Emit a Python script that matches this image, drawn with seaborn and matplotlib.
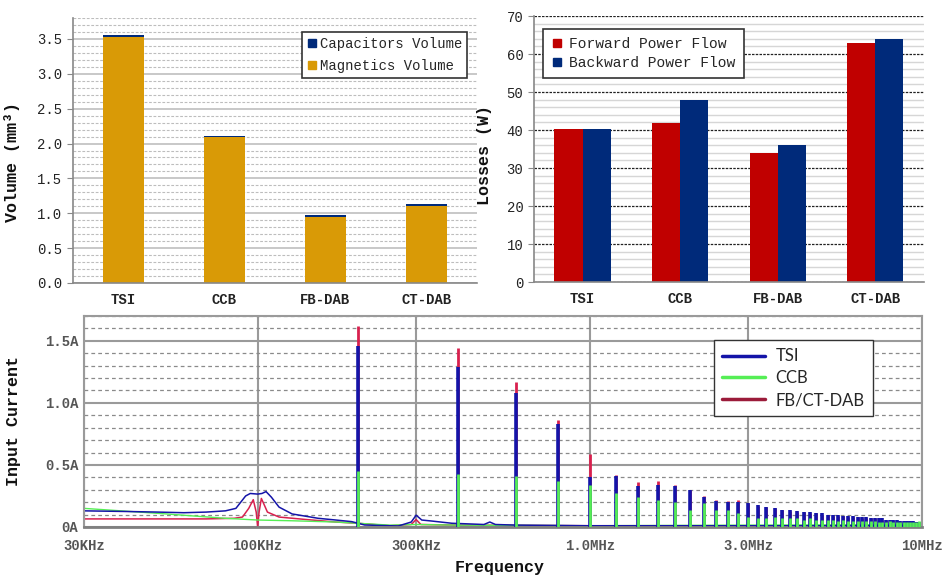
import matplotlib
matplotlib.use("Agg")
import numpy as np
import pandas as pd
import matplotlib.pyplot as plt
import seaborn as sns
from matplotlib.lines import Line2D
from matplotlib.ticker import MultipleLocator, FixedLocator, NullFormatter

# ---------------- data ----------------
categories = ["TSI", "CCB", "FB-DAB", "CT-DAB"]
magnetics_volume = [3.53, 2.09, 0.95, 1.10]
capacitors_volume = [0.03, 0.02, 0.03, 0.03]
volume_ticks = [0.0, 0.5, 1.0, 1.5, 2.0, 2.5, 3.0, 3.5]

forward_losses = [40.2, 41.9, 33.9, 62.9]
backward_losses = [40.2, 48.0, 36.0, 63.9]
loss_ticks = [0, 10, 20, 30, 40, 50, 60, 70]

harmonic_khz = [200, 400, 600, 800, 1000, 1200, 1400, 1600, 1800, 2000,
                2200, 2400, 2600, 2800, 3000, 3200, 3400, 3600, 3800, 4000,
                4200, 4400, 4600, 4800, 5000, 5200, 5400, 5600, 5800, 6000,
                6200, 6400, 6600, 6800, 7000, 7200, 7400, 7600, 7800, 8000,
                8200, 8400, 8600, 8800, 9000, 9200, 9400, 9600, 9800]
tsi_peaks = [1.46, 1.29, 1.08, 0.83, 0.40, 0.41, 0.33, 0.34, 0.33, 0.30,
             0.24, 0.21, 0.20, 0.20, 0.19, 0.18, 0.16, 0.15, 0.14, 0.14,
             0.13, 0.12, 0.12, 0.11, 0.11, 0.10, 0.10, 0.10, 0.09, 0.09,
             0.09, 0.08, 0.08, 0.08, 0.07, 0.07, 0.07, 0.07, 0.06, 0.06,
             0.06, 0.06, 0.05, 0.05, 0.05, 0.05, 0.05, 0.04, 0.04]
ccb_peaks = [0.45, 0.43, 0.41, 0.37, 0.34, 0.27, 0.245, 0.22, 0.20, 0.14,
             0.19, 0.14, 0.14, 0.11, 0.08, 0.07, 0.07, 0.08, 0.07, 0.07,
             0.07, 0.06, 0.07, 0.06, 0.06, 0.06, 0.06, 0.05, 0.06, 0.05,
             0.05, 0.05, 0.05, 0.05, 0.05, 0.05, 0.04, 0.04, 0.04, 0.05,
             0.04, 0.04, 0.04, 0.04, 0.04, 0.04, 0.04, 0.04, 0.05]
dab_peaks = [1.62, 1.44, 1.17, 0.86, 0.59, 0.42, 0.36, 0.37, 0.34, 0.30,
             0.25, 0.22, 0.21, 0.22, 0.19, 0.17, 0.16, 0.15, 0.14, 0.13,
             0.12, 0.12, 0.11, 0.11, 0.10, 0.10, 0.09, 0.09, 0.09, 0.08,
             0.08, 0.08, 0.07, 0.07, 0.07, 0.07, 0.06, 0.06, 0.06, 0.06,
             0.06, 0.05, 0.05, 0.05, 0.05, 0.05, 0.04, 0.04, 0.04]

tsi_floor_khz = [30, 40, 50, 60, 70, 80, 86, 92, 95, 100, 103, 106, 110, 116,
                 127, 152, 172, 192, 210, 265, 290, 300, 312, 334, 384, 440,
                 480, 500, 520, 600, 1000, 10000]
tsi_floor = [0.13, 0.125, 0.12, 0.115, 0.12, 0.13, 0.15, 0.25, 0.27, 0.265,
             0.27, 0.285, 0.24, 0.16, 0.105, 0.07, 0.056, 0.043, 0.016, 0.008,
             0.04, 0.095, 0.056, 0.048, 0.03, 0.024, 0.02, 0.04, 0.02, 0.015,
             0.01, 0.01]
dab_floor_khz = [30, 50, 70, 85, 90, 94, 97, 99, 100, 101, 102.6, 105, 107,
                 116, 140, 172, 200, 250, 290, 300, 310, 400, 1000, 10000]
dab_floor = [0.065, 0.065, 0.065, 0.07, 0.08, 0.15, 0.22, 0.12, 0.0, 0.12,
             0.23, 0.17, 0.12, 0.08, 0.06, 0.04, 0.03, 0.01, 0.02, 0.06,
             0.02, 0.015, 0.01, 0.01]
ccb_floor_khz = [30, 50, 80, 100, 127, 172, 200, 250, 300, 400, 1000, 10000]
ccb_floor = [0.15, 0.11, 0.07, 0.056, 0.05, 0.04, 0.03, 0.015, 0.02, 0.015,
             0.01, 0.02]

freq_ticks_hz = [30e3, 100e3, 300e3, 1e6, 3e6, 10e6]
freq_tick_labels = ["30KHz", "100KHz", "300KHz", "1.0MHz", "3.0MHz", "10MHz"]
current_ticks = [0.0, 0.5, 1.0, 1.5]
current_tick_labels = ["0A", "0.5A", "1.0A", "1.5A"]

# ---------------- style ----------------
sns.set_style("white")
MONO = ["Liberation Mono", "DejaVu Sans Mono"]
plt.rcParams["font.family"] = MONO

GOLD = "#D99A06"
NAVY = "#002A7A"
RED = "#C00000"
BLUE_TR = "#1414A8"
GREEN_TR = "#55EE55"
RED_TR = "#D8204E"

fig = plt.figure(figsize=(9.49, 5.76), dpi=100)
fig.patch.set_facecolor("white")

# ---------------- top-left: volume ----------------
ax1 = fig.add_axes([0.0769, 0.5087, 0.4257, 0.460])
total_volume = [m + c for m, c in zip(magnetics_volume, capacitors_volume)]
sns.barplot(x=categories, y=total_volume, color=NAVY, width=0.4, saturation=1,
            linewidth=0, ax=ax1)
sns.barplot(x=categories, y=magnetics_volume, color=GOLD, width=0.4,
            saturation=1, linewidth=0, ax=ax1)
ax1.set_xlim(-0.5, 3.5)
ax1.set_ylim(0, 3.8)
ax1.yaxis.set_major_locator(FixedLocator(volume_ticks))
ax1.set_yticklabels([f"{v:.1f}" for v in volume_ticks])
ax1.yaxis.set_minor_locator(MultipleLocator(0.1))
ax1.set_axisbelow(True)
ax1.grid(which="major", axis="y", color="#c4c4c4", lw=1.3)
ax1.grid(which="minor", axis="y", color="#bdbdbd", lw=0.8, ls=(0, (2.5, 1.5)))
ax1.grid(which="major", axis="x", visible=False)
ax1.xaxis.set_minor_locator(FixedLocator([-0.5, 0.5, 1.5, 2.5, 3.5]))
ax1.tick_params(axis="x", which="major", length=0, pad=7, labelsize=10,
                colors="#222222")
ax1.tick_params(axis="x", which="minor", length=5, color="#888888", direction="out")
ax1.tick_params(axis="y", which="major", length=4, color="#888888", labelsize=10,
                colors="#222222", left=True)
ax1.tick_params(axis="y", which="minor", length=0)
for t in ax1.get_xticklabels():
    t.set_fontweight("bold")
for s in ["top", "right"]:
    ax1.spines[s].set_visible(False)
for s in ["left", "bottom"]:
    ax1.spines[s].set_color("#888888")
    ax1.spines[s].set_linewidth(1.2)
ax1.set_xlabel("")
ax1.set_ylabel("Volume (mm³)", fontsize=12, fontweight="bold", color="#111111")
ax1.yaxis.set_label_coords(-0.131, 0.457)
h1 = [Line2D([], [], ls="none", marker="s", markersize=6, color=NAVY),
      Line2D([], [], ls="none", marker="s", markersize=6, color=GOLD)]
leg1 = ax1.legend(h1, ["Capacitors Volume", "Magnetics Volume"],
                  loc="upper right", bbox_to_anchor=(0.975, 0.947),
                  frameon=True, fancybox=False, framealpha=1,
                  edgecolor="#333333", prop={"family": MONO, "size": 10},
                  handletextpad=0.15, handlelength=0.8, borderpad=0.35,
                  labelspacing=0.6, borderaxespad=0)
leg1.get_frame().set_linewidth(1.2)

# ---------------- top-right: losses ----------------
ax2 = fig.add_axes([0.5624, 0.5104, 0.4113, 0.4618])
loss_df = pd.DataFrame({
    "Converter": categories * 2,
    "Losses": forward_losses + backward_losses,
    "Flow": ["Forward Power Flow"] * 4 + ["Backward Power Flow"] * 4,
})
sns.barplot(data=loss_df, x="Converter", y="Losses", hue="Flow",
            palette=[RED, NAVY], width=0.575, saturation=1, linewidth=0,
            ax=ax2, legend=False)
ax2.set_xlim(-0.5, 3.5)
ax2.set_ylim(0, 70)
ax2.yaxis.set_major_locator(FixedLocator(loss_ticks))
ax2.set_yticklabels([str(v) for v in loss_ticks])
ax2.yaxis.set_minor_locator(MultipleLocator(2))
ax2.set_axisbelow(True)
ax2.grid(which="minor", axis="y", color="#d6d6d6", lw=1.0)
ax2.grid(which="major", axis="y", color="#222222", lw=0.9, ls=(0, (2, 1)))
ax2.grid(which="major", axis="x", visible=False)
ax2.xaxis.set_minor_locator(FixedLocator([-0.5, 0.5, 1.5, 2.5, 3.5]))
ax2.tick_params(axis="x", which="major", length=0, pad=7, labelsize=10,
                colors="#222222")
ax2.tick_params(axis="x", which="minor", length=5, color="#888888", direction="out")
ax2.tick_params(axis="y", which="major", length=4, color="#888888", labelsize=10,
                colors="#222222", left=True)
ax2.tick_params(axis="y", which="minor", length=0)
for t in ax2.get_xticklabels():
    t.set_fontweight("bold")
for s in ["top", "right"]:
    ax2.spines[s].set_visible(False)
for s in ["left", "bottom"]:
    ax2.spines[s].set_color("#888888")
    ax2.spines[s].set_linewidth(1.2)
ax2.set_xlabel("")
ax2.set_ylabel("Losses (W)", fontsize=12, fontweight="bold", color="#111111")
ax2.yaxis.set_label_coords(-0.107, 0.477)
h2 = [Line2D([], [], ls="none", marker="s", markersize=6, color=RED),
      Line2D([], [], ls="none", marker="s", markersize=6, color=NAVY)]
leg2 = ax2.legend(h2, ["Forward Power Flow", "Backward Power Flow"],
                  loc="upper left", bbox_to_anchor=(0.024, 0.951),
                  frameon=True, fancybox=False, framealpha=1,
                  edgecolor="#333333", prop={"family": MONO, "size": 10.5},
                  handletextpad=0.45, handlelength=0.8, borderpad=0.55,
                  labelspacing=0.35, borderaxespad=0)
leg2.get_frame().set_linewidth(1.2)

# ---------------- bottom: input current spectrum ----------------
ax3 = fig.add_axes([0.0885, 0.0851, 0.883, 0.3663])
ax3.set_xscale("log")
harm_hz = np.array(harmonic_khz) * 1e3

sns.lineplot(x=np.array(dab_floor_khz) * 1e3, y=dab_floor, color=RED_TR,
             lw=1.1, sort=False, estimator=None, ax=ax3)
sns.lineplot(x=np.array(ccb_floor_khz) * 1e3, y=ccb_floor, color=GREEN_TR,
             lw=1.0, sort=False, estimator=None, ax=ax3)
sns.lineplot(x=np.array(tsi_floor_khz) * 1e3, y=tsi_floor, color=BLUE_TR,
             lw=1.1, sort=False, estimator=None, ax=ax3)
ax3.vlines(harm_hz, 0, dab_peaks, color=RED_TR, lw=2.0, zorder=3)
ax3.vlines(harm_hz, 0, tsi_peaks, color=BLUE_TR, lw=2.6, zorder=4)
ax3.vlines(harm_hz, 0, ccb_peaks, color=GREEN_TR, lw=2.0, zorder=5)

ax3.set_xlim(30e3, 10e6)
ax3.set_ylim(0, 1.7)
ax3.xaxis.set_major_locator(FixedLocator(freq_ticks_hz))
ax3.xaxis.set_minor_locator(FixedLocator([]))
ax3.xaxis.set_minor_formatter(NullFormatter())
ax3.set_xticks(freq_ticks_hz)
ax3.set_xticklabels(freq_tick_labels)
ax3.yaxis.set_major_locator(FixedLocator(current_ticks))
ax3.set_yticklabels(current_tick_labels)
ax3.yaxis.set_minor_locator(MultipleLocator(0.1))
ax3.set_axisbelow(True)
ax3.grid(which="major", axis="both", color="#9a9a9a", lw=1.5)
ax3.grid(which="minor", axis="y", color="#8a8a8a", lw=0.9, ls=(0, (3, 2.5)))
ax3.tick_params(axis="both", which="both", length=0)
ax3.tick_params(axis="x", pad=9, labelsize=10, labelcolor="#555555")
ax3.tick_params(axis="y", pad=4, labelsize=10, labelcolor="#555555")
for t in ax3.get_xticklabels() + ax3.get_yticklabels():
    t.set_fontweight("bold")
for s in ax3.spines.values():
    s.set_color("#9a9a9a")
    s.set_linewidth(1.5)
ax3.spines["bottom"].set_color("#808080")
ax3.spines["bottom"].set_linewidth(2)
ax3.set_xlabel("Frequency", fontsize=12, fontweight="bold", color="#111111")
ax3.xaxis.set_label_coords(0.496, -0.155)
ax3.set_ylabel("Input Current", fontsize=12, fontweight="bold", color="#111111")
ax3.yaxis.set_label_coords(-0.075, 0.50)
h3 = [Line2D([], [], color=BLUE_TR, lw=2.5),
      Line2D([], [], color=GREEN_TR, lw=2.5),
      Line2D([], [], color="#9B1B3A", lw=2.5)]
leg3 = ax3.legend(h3, ["TSI", "CCB", "FB/CT-DAB"], loc="upper right",
                  bbox_to_anchor=(0.9415, 0.886), frameon=True, fancybox=False,
                  framealpha=1, edgecolor="#333333",
                  prop={"family": ["Lato", "DejaVu Sans"], "size": 12},
                  handlelength=2.6, handletextpad=0.6, borderpad=0.5,
                  labelspacing=0.35, borderaxespad=0)
leg3.get_frame().set_linewidth(1.0)

fig.savefig("out.png", dpi=100, facecolor="white")
